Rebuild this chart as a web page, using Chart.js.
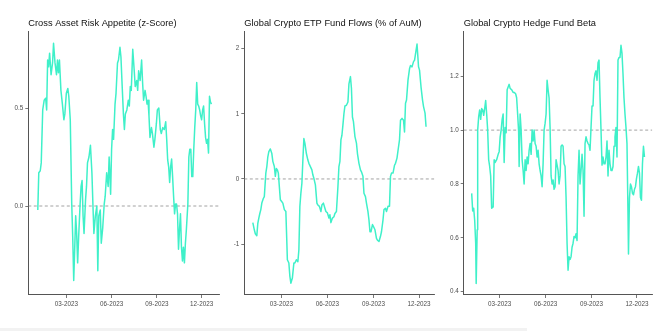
<!DOCTYPE html>
<html>
<head>
<meta charset="utf-8">
<script src="https://cdn.jsdelivr.net/npm/chart.js@4.4.1/dist/chart.umd.min.js"></script>
<style>
  body { margin: 0; background: #fff; width: 661px; height: 331px; position: relative; overflow: hidden; }
  .panel { position: absolute; top: 0; height: 331px; }
  .strip { position: absolute; left: 0; top: 328px; width: 527px; height: 3px; background: #f2f2f2; }
</style>
</head>
<body>
<div class="panel" style="left:0;width:222px"><canvas id="risk" width="222" height="331"></canvas></div>
<div class="panel" style="left:222px;width:218px"><canvas id="flows" width="218" height="331"></canvas></div>
<div class="panel" style="left:440px;width:221px"><canvas id="beta" width="221" height="331"></canvas></div>
<div class="strip"></div>
<script>
// x positions are days since 1 Jan 2023
const monthTickDays   = [59, 151, 243, 334];
const monthTickLabels = ['03-2023', '06-2023', '09-2023', '12-2023'];

const titles    = ['Cross Asset Risk Appetite (z-Score)', 'Global Crypto ETP Fund Flows (% of AuM)', 'Global Crypto Hedge Fund Beta'];
const refLevels = [0, 0, 1];

const riskDays = [1,3,6,8,11,14,17,19,21,23,25,28,31,33,36,39,41,43,45,48,51,54,56,59,62,64,67,70,72,74,
  76,78,80,82,84,87,89,91,93,95,98,100,102,105,108,111,113,115,118,121,123,125,128,130,133,136,138,141,144,146,
  149,151,153,155,158,160,163,165,168,170,172,
  175,177,179,182,185,187,189,191,194,197,199,202,204,206,209,212,214,216,219,221,223,225,227,229,232,234,237,239,242,244,
  247,250,252,255,258,261,263,265,267,269,271,273,275,277,279,281,283,285,287,289,291,293,295,297,299,301,303,306,308,310,
  312,314,316,318,320,322,324,326,328,330,332,334,336,338,340,342,344,346,348,350,352,354];
const riskValues = [-0.02,0.17,0.18,0.22,0.49,0.54,0.55,0.49,0.745,0.71,0.78,0.67,0.73,0.83,0.73,0.67,0.745,0.68,0.745,0.59,
  0.52,0.44,0.47,0.575,0.60,0.56,0.44,0.01,-0.16,-0.38,-0.22,-0.05,-0.14,-0.29,-0.16,0.01,0.10,0.13,-0.05,-0.14,
  0.03,0.10,0.22,0.25,0.31,0.17,0.01,-0.14,-0.05,0.0,-0.33,-0.05,-0.02,-0.19,-0.11,0.01,0.05,0.17,0.10,0.25,
  0.06,0.29,0.39,0.34,0.52,0.575,0.73,0.745,0.81,0.76,0.64,
  0.47,0.39,0.47,0.49,0.54,0.51,0.61,0.59,0.80,0.69,0.61,0.64,0.59,0.69,0.64,0.745,0.63,0.54,0.59,0.56,
  0.52,0.54,0.46,0.35,0.40,0.37,0.30,0.34,0.42,0.49,0.50,0.39,0.37,0.40,0.39,0.43,0.34,0.235,0.20,0.12,
  0.20,0.24,0.15,0.05,-0.04,0.01,0.01,-0.04,-0.22,-0.12,-0.04,-0.21,-0.28,-0.21,-0.29,-0.19,-0.12,0.01,0.25,0.29,
  0.29,0.15,0.15,0.29,0.40,0.49,0.63,0.52,0.51,0.49,0.46,0.44,0.49,0.51,0.42,0.35,0.32,0.34,0.27,0.56,0.53,0.52];

const flowDays = [2,5,7,10,12,14,16,18,20,23,25,28,30,32,34,37,40,42,45,47,49,51,53,55,57,60,62,65,68,70,
  71,74,76,78,81,84,86,89,92,94,96,98,100,102,104,106,109,112,114,117,120,122,124,127,130,132,135,138,140,143,
  146,148,151,154,156,158,161,164,166,169,
  172,174,176,178,180,182,184,186,189,192,194,197,199,201,203,206,209,211,214,217,219,222,224,227,229,
  232,234,236,238,241,243,246,249,251,254,257,259,262,264,267,269,272,275,277,279,282,285,287,290,293,
  295,297,300,303,305,307,309,312,315,317,320,323,325,327,330,333,335,338,341,343,346,348];
const flowValues = [-0.67,-0.78,-0.84,-0.87,-0.68,-0.60,-0.53,-0.47,-0.37,-0.30,-0.27,0.09,0.19,0.34,0.42,
  0.46,0.39,0.27,0.19,0.04,0.16,0.14,0.09,-0.12,-0.32,-0.35,-0.37,-0.47,-0.50,-0.98,
  -1.24,-1.29,-1.49,-1.60,-1.52,-1.29,-1.29,-1.24,-1.27,-1.09,-0.42,-0.22,-0.07,0.29,0.62,
  0.55,0.39,0.29,0.24,0.19,0.14,0.06,0.01,-0.09,-0.37,-0.40,-0.42,-0.50,-0.40,-0.37,
  -0.45,-0.50,-0.52,-0.60,-0.55,-0.67,-0.60,-0.58,-0.53,-0.50,
  -0.12,0.19,0.27,0.60,0.67,0.83,1.0,1.12,1.13,1.18,1.46,1.57,1.39,0.95,0.88,
  0.65,0.55,0.39,0.24,0.14,0.11,0.04,-0.22,-0.27,-0.37,-0.50,-0.63,-0.81,-0.81,-0.70,
  -0.73,-0.78,-0.91,-0.94,-0.96,-0.88,-0.81,-0.63,-0.47,-0.45,-0.50,-0.42,-0.42,0.04,0.09,
  0.09,0.21,0.24,0.32,0.49,0.60,0.90,0.93,0.90,0.72,1.16,1.21,1.52,1.69,1.74,
  1.72,1.80,1.82,1.92,2.07,1.72,1.67,1.41,1.21,1.11,1.01,0.80];

const betaDays = [3,5,7,9,11,12,14,15,17,19,21,23,25,27,29,31,33,35,37,39,41,43,46,48,50,53,56,58,60,62,
  64,66,68,70,72,74,76,78,80,83,86,88,91,93,95,97,98,100,102,104,106,108,110,112,114,116,118,120,122,124,
  126,128,130,132,134,136,138,140,142,144,146,148,150,152,154,156,158,160,162,164,166,168,170,172,
  176,178,180,182,184,186,188,190,192,194,196,198,200,202,204,206,208,210,212,214,216,218,220,222,224,226,228,230,
  232,234,236,238,240,242,244,246,248,250,252,254,256,258,260,262,264,266,268,270,272,274,276,278,280,282,284,286,
  288,290,292,294,296,298,300,302,304,306,308,310,312,314,316,317,319,321,323,325,327,329,331,333,335,337,339,341,
  343,345,347,349];
const betaValues = [0.765,0.70,0.71,0.665,0.58,0.43,0.63,1.0,1.05,1.075,1.04,1.08,1.075,1.055,1.08,1.11,1.06,1.0,0.89,0.865,
  0.83,0.71,0.715,0.89,0.88,0.89,0.91,0.92,0.975,1.0,1.04,1.06,0.88,1.01,0.99,1.15,1.16,1.17,1.155,1.15,
  1.14,1.14,1.135,1.12,1.06,0.995,0.865,1.06,1.0,0.89,0.85,0.80,0.89,0.85,0.90,0.875,0.925,0.95,0.91,1.0,
  0.96,1.0,0.95,0.94,0.90,0.925,0.875,0.85,0.83,0.79,0.875,1.0,1.025,1.06,1.185,1.15,1.12,1.01,0.83,0.80,
  0.815,0.78,0.79,0.89,
  0.85,0.80,0.83,0.94,0.945,0.94,0.875,0.865,0.75,0.58,0.48,0.53,0.52,0.53,0.565,0.58,0.605,0.60,0.615,0.59,
  0.83,0.925,0.80,0.85,0.91,0.85,0.68,0.95,0.975,0.96,0.95,0.945,0.925,1.01,1.09,1.09,1.185,1.21,1.22,1.185,
  1.25,1.26,1.12,1.0,0.87,0.90,0.875,0.875,0.90,0.96,0.83,0.925,0.875,0.85,0.85,0.865,0.94,0.975,1.01,0.90,
  1.26,1.27,1.27,1.315,1.285,1.21,1.12,1.06,1.01,0.95,0.69,0.54,0.75,0.80,0.79,0.765,0.76,0.78,0.79,0.82,
  0.84,0.865,0.84,0.75,0.74,0.875,0.94,0.90];

const riskTicks      = [0, 0.5];
const riskTickLabels = ['0.0', '0.5'];
const flowTicks      = [-1, 0, 1, 2];
const flowTickLabels = ['-1', '0', '1', '2'];
const betaTicks      = [0.4, 0.6, 0.8, 1.0, 1.2];
const betaTickLabels = ['0.4', '0.6', '0.8', '1.0', '1.2'];

const FONT       = "'Liberation Sans', Arial, sans-serif";
const LINE_COLOR = '#3ff0c9';
const AXIS_COLOR = '#555555';
const TEXT_COLOR = '#4d4d4d';

function makePanel(canvasId, cfg) {
  const canvas = document.getElementById(canvasId);
  const points = cfg.days.map((d, i) => ({ x: d, y: cfg.values[i] }));
  const refLine = [{ x: cfg.xMin, y: cfg.ref }, { x: cfg.xMax, y: cfg.ref }];

  return new Chart(canvas, {
    type: 'line',
    data: {
      datasets: [
        { data: points, borderColor: LINE_COLOR, borderWidth: 1.5, pointRadius: 0, tension: 0, borderJoinStyle: 'round' },
        { data: refLine, borderColor: '#8c8c8c', borderWidth: 0.8, borderDash: [3, 2.5], pointRadius: 0 }
      ]
    },
    options: {
      responsive: false,
      animation: false,
      layout: { padding: { left: 0, right: cfg.padRight, top: 0, bottom: 0 } },
      plugins: {
        legend: { display: false },
        tooltip: { enabled: false },
        title: {
          display: true,
          text: cfg.title,
          align: 'start',
          fullSize: false,   // so the title starts at the plot's left edge
          color: '#111',
          font: { family: FONT, size: 9.3, weight: 'normal' },
          padding: { top: 17.7, bottom: 3.1 }
        }
      },
      scales: {
        x: {
          type: 'linear',
          min: cfg.xMin,
          max: cfg.xMax,
          afterBuildTicks: s => { s.ticks = monthTickDays.map(v => ({ value: v })); },
          afterFit: s => { s.height = 36; },
          ticks: {
            autoSkip: false, maxRotation: 0, padding: 2,
            color: TEXT_COLOR, font: { family: FONT, size: 6.3 },
            callback: (v, i) => monthTickLabels[i]
          },
          grid: { drawOnChartArea: false, drawTicks: true, tickLength: 3, color: AXIS_COLOR, lineWidth: 0.8 },
          border: { display: true, color: AXIS_COLOR, width: 1 }
        },
        y: {
          min: cfg.yMin,
          max: cfg.yMax,
          afterBuildTicks: s => { s.ticks = cfg.yTicks.map(v => ({ value: v })); },
          afterFit: s => { s.width = cfg.yAxisWidth; },
          ticks: {
            autoSkip: false, padding: 2,
            color: TEXT_COLOR, font: { family: FONT, size: 6.3 },
            callback: (v, i) => cfg.yLabels[i]
          },
          grid: { drawOnChartArea: false, drawTicks: true, tickLength: 3, color: AXIS_COLOR, lineWidth: 0.8 },
          border: { display: true, color: AXIS_COLOR, width: 1 }
        }
      }
    }
  });
}

makePanel('risk', {
  title: titles[0], days: riskDays, values: riskValues, ref: refLevels[0],
  xMin: -18.3, xMax: 369.3, yMin: -0.454, yMax: 0.888,
  yTicks: riskTicks, yLabels: riskTickLabels, yAxisWidth: 28.3, padRight: 3
});
makePanel('flows', {
  title: titles[1], days: flowDays, values: flowValues, ref: refLevels[1],
  xMin: -15, xMax: 364.5, yMin: -1.78, yMax: 2.255,
  yTicks: flowTicks, yLabels: flowTickLabels, yAxisWidth: 22.3, padRight: 5.7
});
makePanel('beta', {
  title: titles[2], days: betaDays, values: betaValues, ref: refLevels[2],
  xMin: -13, xMax: 364.7, yMin: 0.3877, yMax: 1.3645,
  yTicks: betaTicks, yLabels: betaTickLabels, yAxisWidth: 23.7, padRight: 8.7
});
</script>
</body>
</html>
